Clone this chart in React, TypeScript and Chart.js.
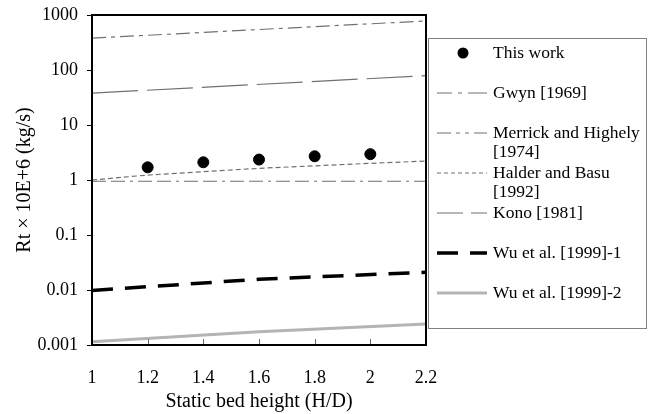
import React, { useEffect, useRef } from "react";
import { Chart, registerables } from "chart.js";
Chart.register(...registerables);

const xTickValues = [1, 1.2, 1.4, 1.6, 1.8, 2, 2.2];
const xTickLabels = ["1", "1.2", "1.4", "1.6", "1.8", "2", "2.2"];
const yTickValues = [0.001, 0.01, 0.1, 1, 10, 100, 1000];
const yTickLabels = ["0.001", "0.01", "0.1", "1", "10", "100", "1000"];

const thisWorkX = [1.2, 1.4, 1.6, 1.8, 2.0];
const thisWorkY = [1.7, 2.1, 2.35, 2.7, 2.95];
const gwynX = [1, 2.2];
const gwynY = [380, 780];
const merrickX = [1, 2.2];
const merrickY = [0.95, 0.95];
const halderX = [1, 1.2, 1.6, 2.0, 2.2];
const halderY = [1.0, 1.23, 1.63, 2.01, 2.21];
const konoX = [1, 2.2];
const konoY = [38, 79];
const wu1X = [1, 1.6, 2.2];
const wu1Y = [0.0098, 0.0157, 0.021];
const wu2X = [1, 1.6, 2.2];
const wu2Y = [0.00115, 0.00175, 0.0024];

const legendLabels = [
  ["This work"],
  ["Gwyn [1969]"],
  ["Merrick and Highely", "[1974]"],
  ["Halder and Basu", "[1992]"],
  ["Kono [1981]"],
  ["Wu et al. [1999]-1"],
  ["Wu et al. [1999]-2"],
];

// dash patterns used for the legend samples (Excel scales them differently)
const legendDashes: (number[] | null)[] = [
  null,
  [15, 6, 4, 6, 20],
  [14, 5, 4, 5, 4, 5, 14],
  [4, 3],
  [26, 8, 20],
  [21, 12, 20],
  null,
];

const FONT = "'Liberation Serif', 'Times New Roman', serif";

const pts = (xs: number[], ys: number[]) => xs.map((x, i) => ({ x, y: ys[i] }));

export default function App() {
  const ref = useRef<HTMLCanvasElement | null>(null);
  useEffect(() => {
    const canvas = ref.current;
    if (!canvas) return;

    const framePlugin = {
      id: "frame",
      afterDatasetsDraw(chart: any) {
        const { ctx, chartArea } = chart;
        const xs = chart.scales.x;
        const ys = chart.scales.y;
        ctx.save();
        ctx.strokeStyle = "#666";
        ctx.lineWidth = 1;
        for (const v of xTickValues.slice(1, -1)) {
          const px = Math.round(xs.getPixelForValue(v)) + 0.5;
          ctx.beginPath();
          ctx.moveTo(px, chartArea.bottom);
          ctx.lineTo(px, chartArea.bottom - 6);
          ctx.stroke();
        }
        ctx.strokeStyle = "#000";
        for (const v of yTickValues) {
          const py = Math.round(ys.getPixelForValue(v)) + 0.5;
          ctx.beginPath();
          ctx.moveTo(chartArea.left - 5, py);
          ctx.lineTo(chartArea.left, py);
          ctx.stroke();
        }
        ctx.lineWidth = 2;
        ctx.strokeRect(chartArea.left, chartArea.top, chartArea.right - chartArea.left, chartArea.bottom - chartArea.top);
        ctx.restore();
      },
    };

    const legendPlugin = {
      id: "customLegend",
      afterDraw(chart: any) {
        const { ctx } = chart;
        ctx.save();
        ctx.fillStyle = "#fff";
        ctx.fillRect(428, 38, 218, 290);
        ctx.strokeStyle = "#808080";
        ctx.lineWidth = 1;
        ctx.strokeRect(428.5, 38.5, 218, 290);
        chart.data.datasets.forEach((ds: any, i: number) => {
          const y = 53 + i * 40;
          if (i === 0) {
            ctx.fillStyle = "#000";
            ctx.beginPath();
            ctx.arc(463, y, 5.5, 0, Math.PI * 2);
            ctx.fill();
          } else {
            ctx.strokeStyle = ds.borderColor;
            ctx.lineWidth = ds.borderWidth;
            ctx.setLineDash(legendDashes[i] || []);
            ctx.beginPath();
            ctx.moveTo(437, y);
            ctx.lineTo(487, y);
            ctx.stroke();
            ctx.setLineDash([]);
          }
          ctx.fillStyle = "#000";
          ctx.font = `17.5px ${FONT}`;
          ctx.textBaseline = "middle";
          ctx.textAlign = "left";
          legendLabels[i].forEach((line, j) => {
            ctx.fillText(line, 493, y + j * 19);
          });
        });
        ctx.restore();
      },
    };

    const chart = new Chart(canvas, {
      type: "scatter",
      data: {
        datasets: [
          {
            label: legendLabels[0].join(" "),
            data: pts(thisWorkX, thisWorkY),
            pointRadius: 5.5,
            pointBackgroundColor: "#000",
            pointBorderColor: "#000",
            showLine: false,
          },
          {
            label: legendLabels[1].join(" "),
            data: pts(gwynX, gwynY),
            showLine: true,
            pointRadius: 0,
            borderColor: "#707070",
            borderWidth: 1.2,
            borderDash: [14, 5, 4, 5],
          },
          {
            label: legendLabels[2].join(" "),
            data: pts(merrickX, merrickY),
            showLine: true,
            pointRadius: 0,
            borderColor: "#707070",
            borderWidth: 1.2,
            borderDash: [14, 5, 14, 5, 3, 5],
          },
          {
            label: legendLabels[3].join(" "),
            data: pts(halderX, halderY),
            showLine: true,
            pointRadius: 0,
            borderColor: "#707070",
            borderWidth: 1.2,
            borderDash: [5, 3],
          },
          {
            label: legendLabels[4].join(" "),
            data: pts(konoX, konoY),
            showLine: true,
            pointRadius: 0,
            borderColor: "#707070",
            borderWidth: 1.2,
            borderDash: [46, 9],
          },
          {
            label: legendLabels[5].join(" "),
            data: pts(wu1X, wu1Y),
            showLine: true,
            pointRadius: 0,
            borderColor: "#000",
            borderWidth: 3.5,
            borderDash: [21, 12],
          },
          {
            label: legendLabels[6].join(" "),
            data: pts(wu2X, wu2Y),
            showLine: true,
            pointRadius: 0,
            borderColor: "#b4b4b4",
            borderWidth: 3,
          },
        ],
      },
      options: {
        animation: false,
        responsive: false,
        layout: { padding: { left: 13, right: 227, top: 15, bottom: 0 } },
        plugins: { legend: { display: false }, tooltip: { enabled: false } },
        scales: {
          x: {
            type: "linear",
            min: 1,
            max: 2.2,
            afterBuildTicks: (scale: any) => {
              scale.ticks = xTickValues.map((v) => ({ value: v }));
            },
            afterFit: (scale: any) => {
              scale.height = 69;
            },
            ticks: {
              color: "#000",
              font: { family: FONT, size: 18 },
              padding: 22,
              maxRotation: 0,
              autoSkip: false,
              callback: (v: any) => {
                const idx = xTickValues.findIndex((t) => Math.abs(t - Number(v)) < 1e-6);
                return idx >= 0 ? xTickLabels[idx] : "";
              },
            },
            grid: { display: true, drawOnChartArea: false, drawTicks: false },
            border: { display: false },
            title: {
              display: true,
              text: "Static bed height (H/D)",
              color: "#000",
              font: { family: FONT, size: 20 },
              padding: 0,
            },
          },
          y: {
            type: "logarithmic",
            min: 0.001,
            max: 1000,
            afterBuildTicks: (scale: any) => {
              scale.ticks = yTickValues.map((v) => ({ value: v }));
            },
            afterFit: (scale: any) => {
              scale.width = 79;
            },
            ticks: {
              color: "#000",
              font: { family: FONT, size: 18 },
              padding: 1,
              autoSkip: false,
              callback: (v: any) => {
                const idx = yTickValues.findIndex((t) => Math.abs(Math.log10(t) - Math.log10(Number(v))) < 1e-6);
                return idx >= 0 ? yTickLabels[idx] : "";
              },
            },
            grid: { display: true, drawOnChartArea: false, drawTicks: true, tickLength: 13, color: "rgba(0,0,0,0)" },
            border: { display: false },
            title: {
              display: true,
              text: "Rt × 10E+6 (kg/s)",
              color: "#000",
              font: { family: FONT, size: 20 },
              padding: 0,
            },
          },
        },
      },
      plugins: [framePlugin, legendPlugin],
    } as any);
    return () => chart.destroy();
  }, []);

  return (
    <div style={{ position: "fixed", left: 0, top: 0, width: 653, height: 414, background: "#fff" }}>
      <canvas ref={ref} width={653} height={414} style={{ width: 653, height: 414, display: "block" }} />
    </div>
  );
}
